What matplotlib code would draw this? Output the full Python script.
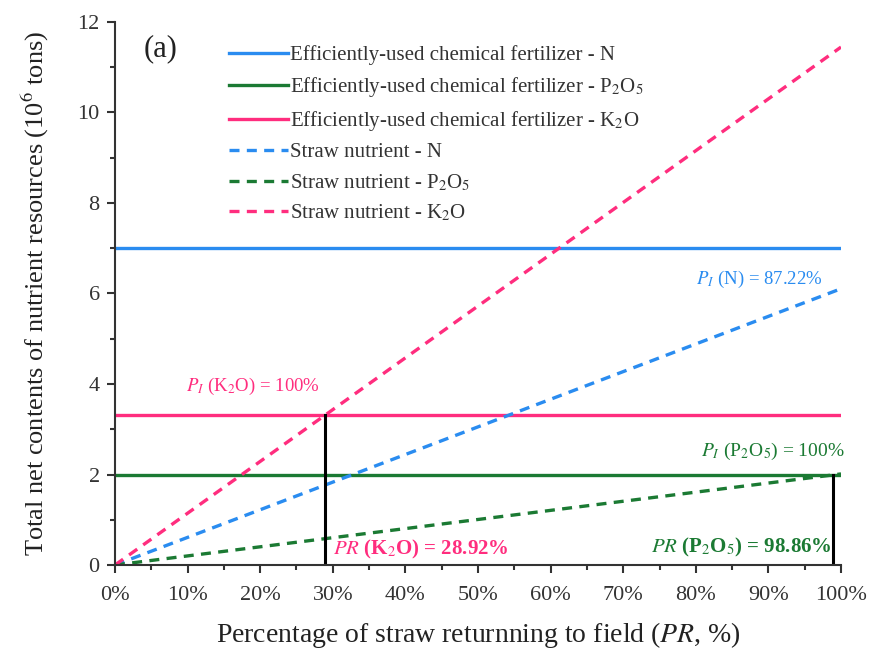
import matplotlib
matplotlib.use("Agg")
import matplotlib.pyplot as plt
import numpy as np
from matplotlib.ticker import MultipleLocator, FuncFormatter

plt.rcParams['font.family'] = ['Liberation Serif', 'DejaVu Serif']
plt.rcParams['mathtext.fontset'] = 'stix'

# Data (10^6 tons)
pr = [0.0, 1.0]  # fraction of straw returned
fert_N = 7.0
fert_P = 1.99
fert_K = 3.31
straw_N_full = 7.0 * 0.8722
straw_P_full = 1.99 / 0.9886
straw_K_full = 3.31 / 0.2892
pr_K = 0.2892
pr_P = 0.9886

c_blue = '#2a8cf0'
c_green = '#1b7a33'
c_pink = '#ff2d7e'

fig = plt.figure(figsize=(8.69, 6.52), dpi=100)
ax = fig.add_axes([0.1323, 0.1334, 0.8355, 0.8329])

lw = 2.4
ax.plot(pr, [fert_N, fert_N], color=c_blue, lw=lw, label='Efficiently-used chemical fertilizer - N')
ax.plot(pr, [fert_P, fert_P], color=c_green, lw=lw, label='Efficiently-used chemical fertilizer - P$_2$O$_5$')
ax.plot(pr, [fert_K, fert_K], color=c_pink, lw=lw, label='Efficiently-used chemical fertilizer - K$_2$O')
ax.plot(pr, [0, straw_N_full], color=c_blue, lw=lw, ls=(0, (3, 2.2)), label='Straw nutrient - N')
ax.plot(pr, [0, straw_P_full], color=c_green, lw=lw, ls=(0, (3, 2.2)), label='Straw nutrient - P$_2$O$_5$')
ax.plot(pr, [0, straw_K_full], color=c_pink, lw=lw, ls=(0, (3, 2.2)), label='Straw nutrient - K$_2$O')

ax.plot([pr_K, pr_K], [0, fert_K], color='black', lw=2.2)
ax.plot([pr_P, pr_P], [0, fert_P], color='black', lw=2.2)

ax.set_xlim(0, 1)
ax.set_ylim(0, 12)
ax.xaxis.set_major_locator(MultipleLocator(0.1))
ax.xaxis.set_minor_locator(MultipleLocator(0.05))
ax.yaxis.set_major_locator(MultipleLocator(2))
ax.yaxis.set_minor_locator(MultipleLocator(1))
ax.xaxis.set_major_formatter(FuncFormatter(lambda v, p: f'{v*100:.0f}%'))
ax.yaxis.set_major_formatter(FuncFormatter(lambda v, p: f'{v:.0f}'))
ax.spines['top'].set_visible(False)
ax.spines['right'].set_visible(False)
for s in ['left', 'bottom']:
    ax.spines[s].set_linewidth(1.5)
    ax.spines[s].set_color('#333333')
ax.tick_params(which='major', direction='out', length=6, width=1.5, labelsize=16, colors='#333333', pad=5)
ax.tick_params(which='minor', direction='out', length=3.5, width=1.5, colors='#333333')
ax.tick_params(axis='x', pad=9)

ax.set_xlabel('Percentage of straw returnning to field ($\\it{PR}$, %)', fontsize=20, labelpad=11, color='#222222')
ax.set_ylabel('Total net contents of nutrient resources (10$^6$ tons)', fontsize=19, labelpad=19, color='#222222')

ax.text(0.04, 11.42, '(a)', fontsize=22, ha='left', va='center', color='#222222')

leg = ax.legend(loc='upper left', bbox_to_anchor=(0.145, 0.972), frameon=False, fontsize=15,
                handlelength=2.85, handletextpad=0.1, labelspacing=0.47, borderaxespad=0)
for t in leg.get_texts():
    t.set_color('#333333')

ax.text(0.098, 3.95, '$\\it{P_{I}}$ (K$_2$O) = 100%', color=c_pink, fontsize=13.5, ha='left', va='center')
ax.text(0.975, 6.3, '$\\it{P_{I}}$ (N) = 87.22%', color=c_blue, fontsize=13.5, ha='right', va='center')
ax.text(1.005, 2.5, '$\\it{P_{I}}$ (P$_2$O$_5$) = 100%', color=c_green, fontsize=14, ha='right', va='center')
ax.text(0.3, 0.35, '$\\mathbf{\\it{PR}}$ (K$_2$O) = 28.92%', color=c_pink, fontsize=15, ha='left', va='center', fontweight='bold')
ax.text(0.987, 0.38, '$\\mathbf{\\it{PR}}$ (P$_2$O$_5$) = 98.86%', color=c_green, fontsize=15, ha='right', va='center', fontweight='bold')

fig.savefig('out.png', dpi=100)
